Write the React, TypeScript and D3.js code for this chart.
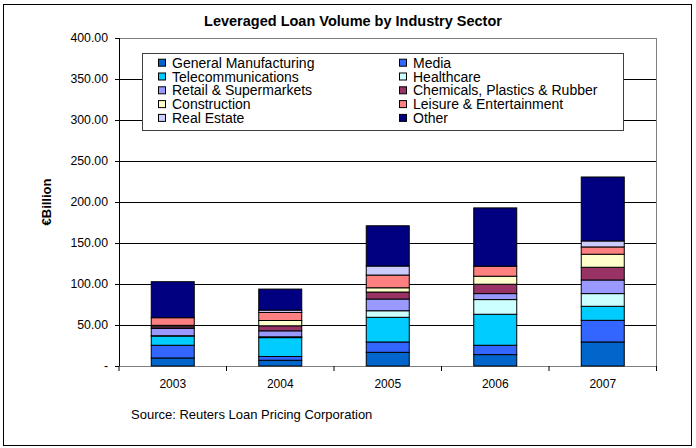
import React from 'react';
import * as d3 from 'd3';

const years = ['2003', '2004', '2005', '2006', '2007'];
const sectors = [
  'General Manufacturing',
  'Media',
  'Telecommunications',
  'Healthcare',
  'Retail & Supermarkets',
  'Chemicals, Plastics & Rubber',
  'Construction',
  'Leisure & Entertainment',
  'Real Estate',
  'Other',
];
const colors = ['#0066CC', '#3366FF', '#00CCFF', '#CCFFFF', '#9999FF', '#993366', '#FFFFCC', '#FF8080', '#CCCCFF', '#000080'];

const generalManufacturing = [9.8, 7.0, 16.7, 13.9, 29.3];
const media = [15.5, 4.6, 12.6, 11.4, 26.4];
const telecommunications = [11.3, 23.0, 30.1, 37.8, 17.1];
const healthcare = [0.3, 1.0, 8.0, 17.9, 15.5];
const retail = [9.0, 7.3, 14.3, 7.3, 16.6];
const chemicals = [2.0, 6.1, 8.5, 11.4, 15.5];
const construction = [1.7, 6.5, 5.2, 9.8, 15.9];
const leisure = [9.3, 9.8, 15.5, 12.2, 8.9];
const realEstate = [0, 2.9, 11.0, 0, 7.3];
const other = [43.9, 25.6, 49.1, 71.1, 78.0];

const seriesValues = [generalManufacturing, media, telecommunications, healthcare, retail, chemicals, construction, leisure, realEstate, other];
const yTicks = [0, 50, 100, 150, 200, 250, 300, 350, 400];

const FONT = 'Arial, "Liberation Sans", Helvetica, sans-serif';

export default function App() {
  const W = 696, H = 448;
  const left = 119, right = 656.5, top = 38, bottom = 366;
  const x = d3.scaleBand<string>().domain(years).range([left, right]).padding(0);
  const y = d3.scaleLinear().domain([0, 400]).range([bottom, top]);
  const rows = years.map((yr, i) => {
    const r: any = { year: yr };
    sectors.forEach((s, k) => (r[s] = seriesValues[k][i]));
    return r;
  });
  const stacked = d3.stack<any>().keys(sectors)(rows);
  const bw = x.bandwidth() * 0.4;

  return (
    <svg width={W} height={H} style={{ position: 'absolute', left: 0, top: 0, background: '#fff' }} fontFamily={FONT}>
      <rect x={3.5} y={4.5} width={688} height={441} fill="#fff" stroke="#000" strokeWidth={1} />
      <text x={353} y={26} textAnchor="middle" fontSize={14.5} fontWeight="bold" fill="#000">
        Leveraged Loan Volume by Industry Sector
      </text>
      {/* gridlines */}
      {yTicks.filter((t) => t > 0 && t < 400).map((t) => (
        <line key={t} x1={left} x2={right} y1={Math.round(y(t)) + 0.5} y2={Math.round(y(t)) + 0.5} stroke="#000" strokeWidth={1} />
      ))}
      {/* plot frame */}
      <line x1={left} x2={right} y1={top + 0.5} y2={top + 0.5} stroke="#808080" />
      <line x1={right} x2={right} y1={top} y2={bottom} stroke="#808080" />
      <line x1={left} x2={right} y1={bottom + 0.5} y2={bottom + 0.5} stroke="#808080" />
      <line x1={left + 0.5} x2={left + 0.5} y1={top} y2={bottom} stroke="#000" />
      {/* y ticks */}
      {yTicks.map((t) => (
        <g key={t}>
          <line x1={left - 4} x2={left} y1={Math.round(y(t)) + 0.5} y2={Math.round(y(t)) + 0.5} stroke="#000" />
          <text x={108} y={y(t) + 4} textAnchor="end" fontSize={12.3} fill="#000">
            {t === 0 ? '-' : t.toFixed(2)}
          </text>
        </g>
      ))}
      {/* x ticks */}
      {years.map((yr, i) => (
        <line key={'t' + yr} x1={left + i * x.step()} x2={left + i * x.step()} y1={bottom} y2={bottom + 5} stroke="#000" />
      ))}
      <line x1={right} x2={right} y1={bottom} y2={bottom + 5} stroke="#000" />
      {years.map((yr) => (
        <text key={'l' + yr} x={(x(yr) as number) + x.bandwidth() / 2} y={388} textAnchor="middle" fontSize={12} fill="#000">
          {yr}
        </text>
      ))}
      {/* bars */}
      {stacked.map((s, k) => (
        <g key={sectors[k]}>
          {s.map((d, i) => {
            const h = y(d[0]) - y(d[1]);
            if (h <= 0) return null;
            return (
              <rect
                key={i}
                x={(x(years[i]) as number) + (x.bandwidth() - bw) / 2}
                y={y(d[1])}
                width={bw}
                height={h}
                fill={colors[k]}
                stroke="#000"
                strokeWidth={1}
              />
            );
          })}
        </g>
      ))}
      {/* y axis title */}
      <text transform={`translate(51,202) rotate(-90)`} textAnchor="middle" fontSize={13} fontWeight="bold" fill="#000">
        €Billion
      </text>
      {/* legend */}
      <rect x={142.5} y={53.5} width={481} height={77} fill="#fff" stroke="#404040" strokeWidth={1} />
      {sectors.map((s, i) => {
        const col = i % 2;
        const row = Math.floor(i / 2);
        const sx = col === 0 ? 158.5 : 399.5;
        const cy = 62.7 + row * 13.8;
        return (
          <g key={'lg' + s}>
            <rect x={sx} y={cy - 3.5} width={7} height={7} fill={colors[i]} stroke="#000" strokeWidth={1} />
            <text x={sx + 13.5} y={cy + 5} fontSize={14} fill="#000">
              {s}
            </text>
          </g>
        );
      })}
      <text x={131} y={419} fontSize={13} fill="#000">
        Source: Reuters Loan Pricing Corporation
      </text>
    </svg>
  );
}
